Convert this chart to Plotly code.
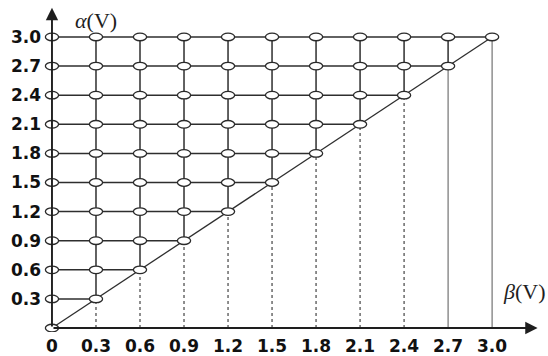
import plotly.graph_objects as go

alpha_levels = [0.3, 0.6, 0.9, 1.2, 1.5, 1.8, 2.1, 2.4, 2.7, 3.0]
beta_levels = [0.3, 0.6, 0.9, 1.2, 1.5, 1.8, 2.1, 2.4, 2.7, 3.0]
x_tick_vals = [0, 0.3, 0.6, 0.9, 1.2, 1.5, 1.8, 2.1, 2.4, 2.7, 3.0]
x_tick_text = ["0", "0.3", "0.6", "0.9", "1.2", "1.5", "1.8", "2.1", "2.4", "2.7", "3.0"]
y_tick_vals = [0.3, 0.6, 0.9, 1.2, 1.5, 1.8, 2.1, 2.4, 2.7, 3.0]
y_tick_text = ["0.3", "0.6", "0.9", "1.2", "1.5", "1.8", "2.1", "2.4", "2.7", "3.0"]
top = 3.0

LC = "#2e2e2e"
fig = go.Figure()

# horizontal grid lines (from alpha axis to the diagonal)
hx, hy = [], []
for a in alpha_levels:
    hx += [0, a, None]
    hy += [a, a, None]
fig.add_trace(go.Scatter(x=hx, y=hy, mode="lines", line=dict(color=LC, width=1.5), hoverinfo="skip"))

# vertical solid lines (from top down to diagonal)
vx, vy = [], []
for b in beta_levels:
    vx += [b, b, None]
    vy += [b, top, None]
fig.add_trace(go.Scatter(x=vx, y=vy, mode="lines", line=dict(color=LC, width=1.5), hoverinfo="skip"))

# lines below the diagonal down to beta axis
dx, dy, sx, sy = [], [], [], []
for b in beta_levels:
    if b < 2.6:
        dx += [b, b, None]
        dy += [0, b, None]
    else:
        sx += [b, b, None]
        sy += [0, b, None]
fig.add_trace(go.Scatter(x=dx, y=dy, mode="lines", line=dict(color="#444444", width=1.2, dash="dot"), hoverinfo="skip"))
fig.add_trace(go.Scatter(x=sx, y=sy, mode="lines", line=dict(color="#666666", width=1.1), hoverinfo="skip"))

# diagonal
fig.add_trace(go.Scatter(x=[0, top], y=[0, top], mode="lines", line=dict(color=LC, width=1.3), hoverinfo="skip"))

# y axis line (alpha)
fig.add_annotation(x=0, y=3.30, ax=0, ay=0, xref="x", yref="y", axref="x", ayref="y",
                   showarrow=True, arrowhead=2, arrowsize=1.3, arrowwidth=1.9, arrowcolor="#1e1e1e", text="")
# x axis line (beta)
fig.add_annotation(x=3.31, y=0, ax=0, ay=0, xref="x", yref="y", axref="x", ayref="y",
                   showarrow=True, arrowhead=2, arrowsize=1.3, arrowwidth=1.9, arrowcolor="#1e1e1e", text="")

# nodes (ellipses)
rx, ry = 0.045, 0.039
pts = [(0.0, 0.0)]
for a in alpha_levels:
    pts.append((0.0, a))
    for b in beta_levels:
        if b <= a + 1e-9:
            pts.append((b, a))
for (px, py) in pts:
    fig.add_shape(type="circle", xref="x", yref="y", x0=px - rx, x1=px + rx, y0=py - ry, y1=py + ry,
                  fillcolor="white", line=dict(color="#2a2a2a", width=1.3), layer="above")

fig.add_annotation(x=0.30, y=3.17, xref="x", yref="y", showarrow=False,
                   text="<i>α</i>(V)", font=dict(family="Liberation Serif", size=22, color="#1e1e1e"))
fig.add_annotation(x=3.22, y=0.38, xref="x", yref="y", showarrow=False,
                   text="<i>β</i>(V)", font=dict(family="Liberation Serif", size=22, color="#1e1e1e"))

tickfont = dict(family="DejaVu Sans", size=17, color="#111111", weight="bold")
fig.update_layout(
    width=548, height=356,
    margin=dict(l=42, r=0, t=0, b=24),
    paper_bgcolor="white", plot_bgcolor="white",
    showlegend=False,
    xaxis=dict(range=[-0.068, 3.381], showgrid=False, zeroline=False, showline=False,
               tickmode="array", tickvals=x_tick_vals, ticktext=x_tick_text,
               ticks="", tickfont=tickfont, ticklabelstandoff=2),
    yaxis=dict(range=[-0.041, 3.381], showgrid=False, zeroline=False, showline=False,
               tickmode="array", tickvals=y_tick_vals, ticktext=y_tick_text,
               ticks="", tickfont=tickfont, ticklabelstandoff=0),
)

fig.write_html("out.html")
